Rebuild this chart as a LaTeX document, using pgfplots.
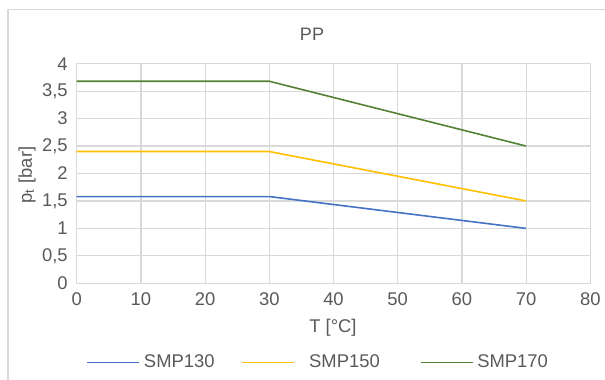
\documentclass[border=0pt]{standalone}
\usepackage{pgfplots}
\pgfplotsset{compat=1.18}
\usepackage{fontspec}
\setmainfont{Liberation Sans}
\definecolor{txt}{HTML}{595959}
\definecolor{gridc}{HTML}{D9D9D9}
\definecolor{cblue}{HTML}{4472C4}
\definecolor{corange}{HTML}{FFC000}
\definecolor{cgreen}{HTML}{548235}
\begin{document}
\begin{tikzpicture}[x=0.5pt,y=0.5pt]
\useasboundingbox (0,0) rectangle (605,380);
\draw[gridc, line width=0.6pt] (8,0) -- (8,370.5) -- (605,370.5);
\begin{axis}[
  at={(76.7*0.5pt,96.7*0.5pt)}, anchor=south west,
  scale only axis, width=256.8pt, height=109.8pt,
  xmin=0, xmax=80, ymin=0, ymax=4,
  xtick={0,10,...,80}, ytick={0,0.5,...,4},
  grid=major, major grid style={gridc, line width=0.6pt},
  axis line style={gridc, line width=0.6pt},
  tick style={draw=none},
  ticklabel style={font=\fontsize{9.2}{10}\selectfont, text=txt},
  /pgf/number format/assume math mode=true,
  /pgf/number format/use comma,
  yticklabel style={xshift=-1pt},
  xticklabel style={yshift=-1pt},
  legend columns=3,
  legend style={at={(0.0181,-0.36)}, anchor=west, draw=none, fill=none,
    font=\fontsize{9.2}{10}\selectfont, text=txt,
    /tikz/column 2/.style={column sep=11.5pt},
    /tikz/column 4/.style={column sep=18pt},
    inner sep=0pt},
  legend image code/.code={\draw[#1] (0pt,0pt) -- (26pt,0pt);},
]
\addplot[cblue, line width=0.8pt] coordinates {(0,1.58) (30,1.58) (70,1.0)};
\addlegendentry{SMP130}
\addplot[corange, line width=0.8pt] coordinates {(0,2.40) (30,2.40) (70,1.5)};
\addlegendentry{\hspace{5pt}SMP150}
\addplot[cgreen, line width=0.8pt] coordinates {(0,3.68) (30,3.68) (70,2.5)};
\addlegendentry{SMP170}
\end{axis}
\node[text=txt, font=\fontsize{9}{10}\selectfont] at (312,346) {PP};
\node[text=txt, font=\fontsize{9.2}{10}\selectfont] at (333,52) {T [°C]};
\node[text=txt, font=\fontsize{9.2}{10}\selectfont, rotate=90] at (27,205) {p\textsubscript{t} [bar]};
\end{tikzpicture}
\end{document}
